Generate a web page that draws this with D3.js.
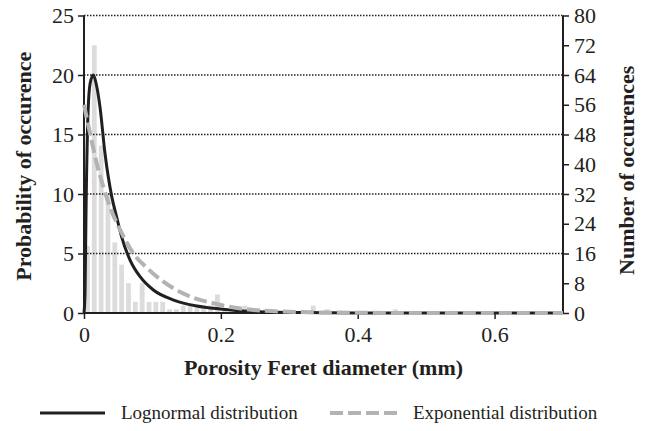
<!DOCTYPE html>
<html>
<head>
<meta charset="utf-8">
<script src="https://cdn.jsdelivr.net/npm/d3@7"></script>
<style>
  html, body { margin: 0; padding: 0; background: #fff; }
  svg text { font-family: "Liberation Serif", "Times New Roman", serif; fill: #231f20; }
</style>
</head>
<body>
<svg id="chart" width="652" height="431"></svg>
<script>
// Histogram: bin left edges (mm) and counts (right axis)
const binLeft = d3.range(0, 70).map(i => +(i * 0.01).toFixed(2));
const binCounts = [18, 72, 45, 32, 19, 13, 8, 3, 8, 3,
                   3, 3, 1, 1, 2, 2, 2, 2, 2, 5,
                   1, 0, 0, 2, 0, 1, 1, 0, 0, 0,
                   0, 0, 0, 2, 0, 1, 0, 0, 0, 0,
                   0, 0, 0, 0, 0, 1, 0, 0, 0, 0,
                   0, 0, 0, 0, 0, 0, 0, 0, 0, 0,
                   0, 0, 0, 0, 0, 0, 0, 0, 0, 0];
const binWidth = 0.01;

// Lognormal distribution (left axis)
const lognormX = [0, 0.0015, 0.003, 0.006, 0.009, 0.0136, 0.018, 0.0234, 0.0307, 0.0405, 0.048, 0.055, 0.0673, 0.082, 0.1014, 0.131, 0.165, 0.199, 0.253, 0.32, 0.4, 0.5, 0.6, 0.7];
const lognormY = [0, 1.7, 8.7, 17, 19.3, 20, 19.2, 17.3, 13.4, 9.8, 8.0, 6.4, 4.45, 3.05, 1.93, 1.09, 0.59, 0.34, 0.11, 0.04, 0.01, 0, 0, 0];

// Exponential distribution (left axis)
const expX = [0, 0.0088, 0.0185, 0.0283, 0.038, 0.0527, 0.0722, 0.0917, 0.116, 0.150, 0.189, 0.238, 0.3, 0.4, 0.5, 0.6, 0.7];
const expY = [17.5, 15.1, 12.6, 10.6, 8.9, 7.0, 5.0, 3.8, 2.63, 1.51, 0.82, 0.31, 0.1, 0.02, 0, 0, 0];

const xTicks = [0, 0.2, 0.4, 0.6];
const xTickLabels = ["0", "0.2", "0.4", "0.6"];
const yLeftTicks = [0, 5, 10, 15, 20, 25];
const yRightTicks = [0, 8, 16, 24, 32, 40, 48, 56, 64, 72, 80];

const svg = d3.select("#chart");
const pLeft = 84, pRight = 563, pTop = 15.5, pBottom = 313;

const x = d3.scaleLinear().domain([0, 0.7]).range([pLeft, pRight]);
const yL = d3.scaleLinear().domain([0, 25]).range([pBottom, pTop]);
const yR = d3.scaleLinear().domain([0, 80]).range([pBottom, pTop]);

// bars
const barW = 4.8;
svg.append("g").selectAll("rect")
  .data(binLeft.map((b, i) => ({b, c: binCounts[i]})).filter(d => d.c > 0))
  .join("rect")
  .attr("x", d => x(d.b + binWidth / 2) - barW / 2)
  .attr("width", barW)
  .attr("y", d => yR(d.c))
  .attr("height", d => yR(0) - yR(d.c))
  .attr("fill", "#dcdcdc");

// gridlines
svg.append("g").selectAll("line")
  .data(yLeftTicks.filter(v => v > 0))
  .join("line")
  .attr("x1", pLeft).attr("x2", pRight)
  .attr("y1", d => yL(d)).attr("y2", d => yL(d))
  .attr("stroke", "#231f20").attr("stroke-width", 1.5)
  .attr("stroke-dasharray", "1.5,1.5");

// axes
const fontSize = 22;
const gL = svg.append("g").attr("transform", `translate(${pLeft},0)`)
  .call(d3.axisLeft(yL).tickValues(yLeftTicks).tickSize(6).tickPadding(4).tickFormat(d3.format("d")));
const gR = svg.append("g").attr("transform", `translate(${pRight},0)`)
  .call(d3.axisRight(yR).tickValues(yRightTicks).tickSize(6).tickPadding(5).tickFormat(d3.format("d")));
const gB = svg.append("g").attr("transform", `translate(0,${pBottom})`)
  .call(d3.axisBottom(x).tickValues(xTicks).tickSize(6).tickPadding(7).tickFormat((d, i) => xTickLabels[i]));

[gL, gR, gB].forEach(g => {
  g.select(".domain").attr("stroke", "#231f20").attr("stroke-width", 2);
  g.selectAll(".tick line").attr("stroke", "#231f20").attr("stroke-width", 1.5);
  g.selectAll(".tick text").attr("font-size", fontSize)
    .attr("font-family", "Liberation Serif, Times New Roman, serif").attr("fill", "#231f20");
});
gL.select(".domain").attr("d", `M0,${pTop}V${pBottom}`);
gR.select(".domain").attr("d", `M0,${pTop}V${pBottom}`);
gB.select(".domain").attr("d", `M${pLeft},0H${pRight}`);

// curves
const lineL = d3.line().x(d => x(d[0])).y(d => yL(d[1])).curve(d3.curveMonotoneX);
svg.append("path")
  .datum(lognormX.map((v, i) => [v, lognormY[i]]))
  .attr("d", lineL)
  .attr("fill", "none").attr("stroke", "#231f20").attr("stroke-width", 3);
svg.append("path")
  .datum(expX.map((v, i) => [v, expY[i]]))
  .attr("d", lineL)
  .attr("fill", "none").attr("stroke", "#b3b3b3").attr("stroke-width", 4)
  .attr("stroke-dasharray", "13,5");

// titles
svg.append("text").attr("x", (pLeft + pRight) / 2).attr("y", 375)
  .attr("text-anchor", "middle").attr("font-size", 22).attr("font-weight", "bold")
  .text("Porosity Feret diameter (mm)");
svg.append("text").attr("transform", `translate(31,${(pTop + pBottom) / 2 + 2}) rotate(-90)`)
  .attr("text-anchor", "middle").attr("font-size", 22).attr("font-weight", "bold")
  .text("Probability of occurence");
svg.append("text").attr("transform", `translate(634,${(pTop + pBottom) / 2 + 6}) rotate(-90)`)
  .attr("text-anchor", "middle").attr("font-size", 22).attr("font-weight", "bold")
  .text("Number of occurences");

// legend
const legY = 413;
svg.append("line").attr("x1", 40).attr("x2", 105).attr("y1", legY).attr("y2", legY)
  .attr("stroke", "#231f20").attr("stroke-width", 3);
svg.append("text").attr("x", 121).attr("y", legY + 6).attr("font-size", 19)
  .text("Lognormal distribution");
svg.append("line").attr("x1", 330).attr("x2", 400).attr("y1", legY).attr("y2", legY)
  .attr("stroke", "#b3b3b3").attr("stroke-width", 4).attr("stroke-dasharray", "13,5");
svg.append("text").attr("x", 413).attr("y", legY + 6).attr("font-size", 19)
  .text("Exponential distribution");
</script>
</body>
</html>
